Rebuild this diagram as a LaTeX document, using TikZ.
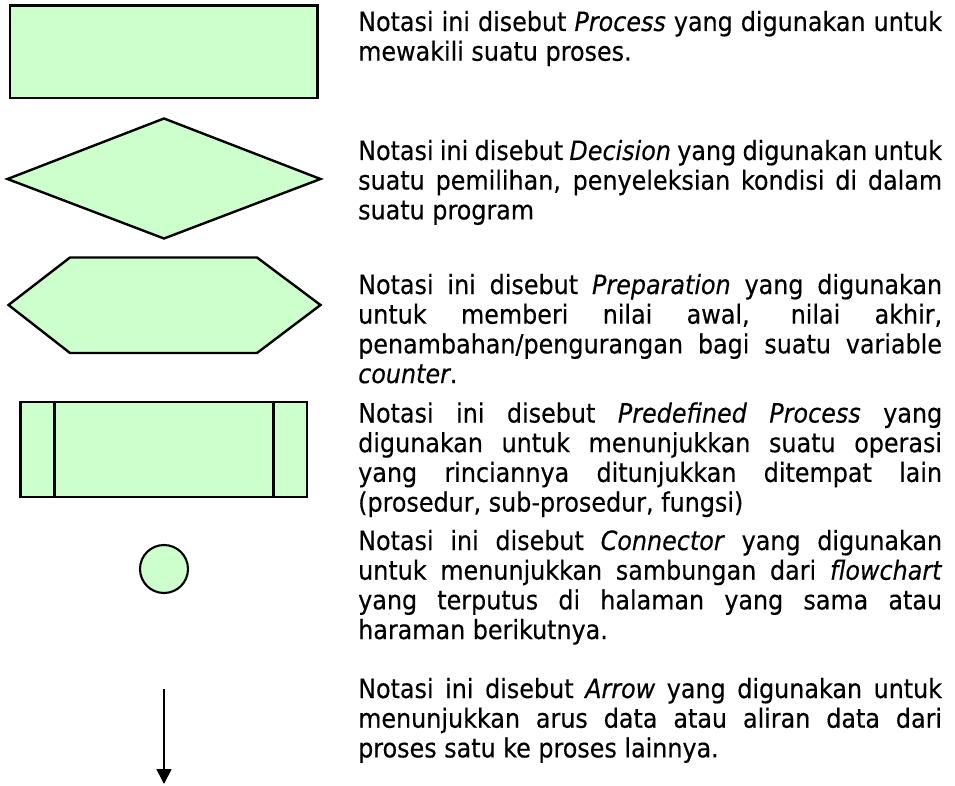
\documentclass[tikz,border=0pt]{standalone}
\usepackage{fontspec}
\setmainfont{DejaVu Sans Condensed}[FakeBold=0.35, AutoFakeBold=0]
\usetikzlibrary{arrows.meta}
\definecolor{shapegreen}{HTML}{CCFFCC}
\tikzset{
  symb/.style={draw=black, fill=shapegreen, line width=2.4pt, line join=miter},
  desc/.style={anchor=base west, inner sep=0pt},
  flowarrow/.style={draw=black, line width=1.7pt, -{Triangle[width=15pt,length=15pt]}}
}
\newcommand{\desctext}[1]{\parbox[t]{584pt}{\fontsize{26.5pt}{29.7pt}\selectfont\hyphenpenalty=10000\emergencystretch=20pt #1}}
\begin{document}
\begin{tikzpicture}[x=1pt,y=-1pt]
\useasboundingbox (0,0) rectangle (955,786);
% symbols
\draw[symb, line width=2.9pt] (10,5.5) rectangle (317.5,98);
\draw[symb] (7.5,179) -- (164,118.5) -- (320.5,179) -- (164,238.5) -- cycle;
\draw[symb] (8.5,305) -- (70,257.5) -- (257,257.5) -- (320.5,305) -- (257,353) -- (70,353) -- cycle;
\draw[symb] (20.5,402) rectangle (307,497);
\draw[symb] (54.5,402) -- (54.5,497);
\draw[symb] (273.5,402) -- (273.5,497);
\draw[symb, line width=2.1pt] (164,569) circle (24);
\coordinate (a1) at (164,689);
\coordinate (a2) at (164,784);
\draw[flowarrow] (a1) -- (a2);
% descriptions
\node[desc] (t1) at (358,31) {\desctext{Notasi ini disebut \textit{Process} yang digunakan untuk\linebreak mewakili suatu proses.}};
\node[desc] (t2) at (358,160) {\desctext{Notasi ini disebut \textit{Decision} yang digunakan untuk\linebreak suatu pemilihan, penyeleksian kondisi di dalam\linebreak suatu program}};
\node[desc] (t3) at (358,294) {\desctext{Notasi ini disebut \textit{Preparation} yang digunakan\linebreak untuk memberi nilai awal, nilai akhir,\linebreak penambahan/pengurangan bagi suatu variable\linebreak \textit{counter}.}};
\node[desc] (t4) at (358,422.5) {\desctext{Notasi ini disebut \textit{Predefined Process} yang\linebreak digunakan untuk menunjukkan suatu operasi\linebreak yang rinciannya ditunjukkan ditempat lain\linebreak (prosedur, sub-prosedur, fungsi)}};
\node[desc] (t5) at (358,550) {\desctext{Notasi ini disebut \textit{Connector} yang digunakan\linebreak untuk menunjukkan sambungan dari \textit{flowchart}\linebreak yang terputus di halaman yang sama atau\linebreak haraman berikutnya.}};
\node[desc] (t6) at (358,698) {\desctext{Notasi ini disebut \textit{Arrow} yang digunakan untuk\linebreak menunjukkan arus data atau aliran data dari\linebreak proses satu ke proses lainnya.}};
\end{tikzpicture}
\end{document}
